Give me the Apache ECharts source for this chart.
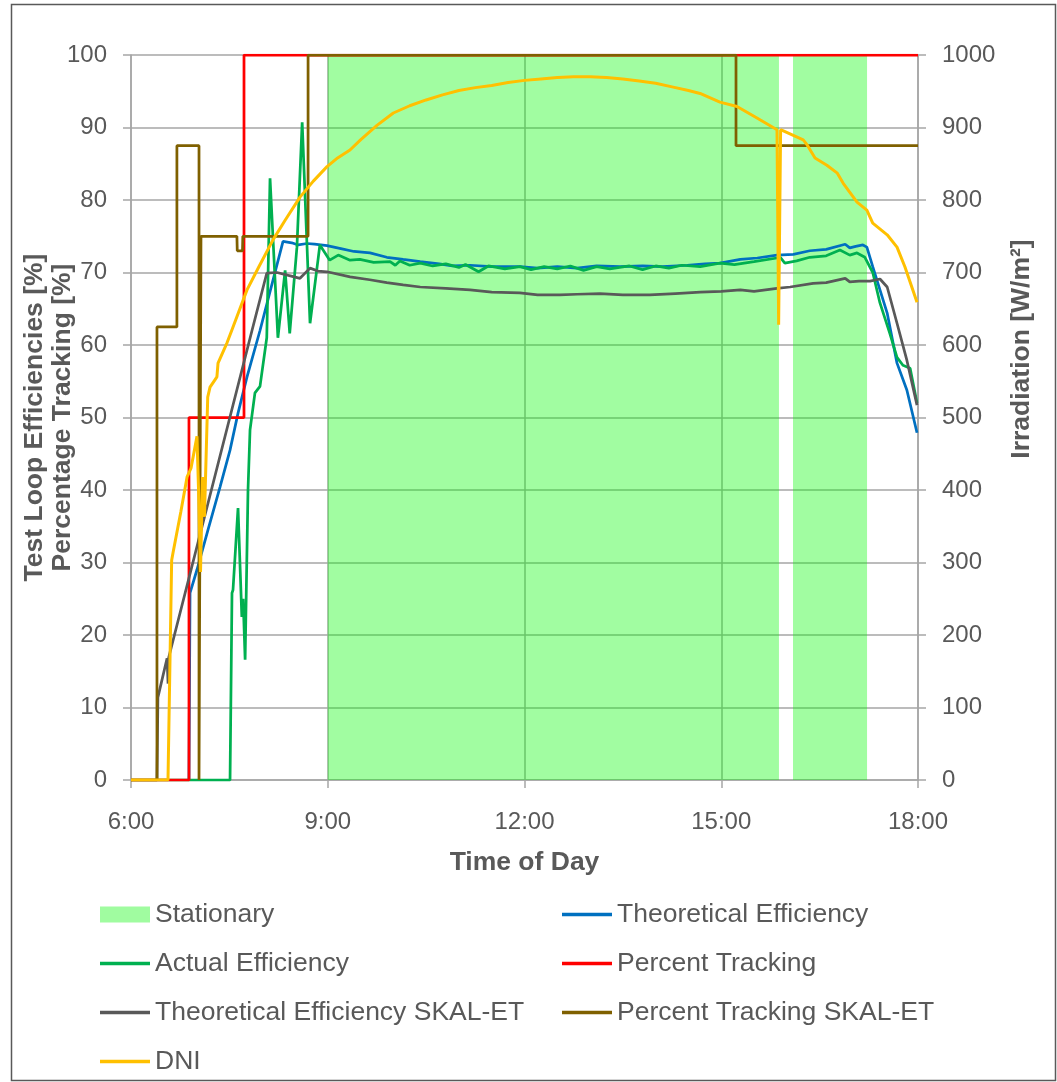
<!DOCTYPE html>
<html><head><meta charset="utf-8">
<script src="https://cdn.jsdelivr.net/npm/echarts@6/dist/echarts.min.js"></script>
<style>html,body{margin:0;padding:0;background:#fff}#c{width:1057px;height:1082px}</style>
</head><body><div id="c"></div><script>
// ---- data (hours of day, values) ----
const xTickLabels = ['6:00', '9:00', '12:00', '15:00', '18:00'];
const stationaryPeriods = [[9.0, 15.88], [16.094, 17.223]];
const theoreticalEff = [[6.884,0],[6.90,25.8],[7.006,29],[7.174,34.5],[7.357,40.4],[7.51,45.5],[7.632,50.6],[7.769,55.6],[7.967,62],[8.318,74.3],[8.45,74.1],[8.55,73.8],[8.684,74.0],[8.80,73.9],[8.989,73.7],[9.2,73.3],[9.4,72.9],[9.644,72.7],[9.9,72.1],[10.15,71.8],[10.41,71.5],[10.7,71.2],[10.9,70.9],[11.17,71.0],[11.5,70.8],[11.93,70.8],[12.2,70.6],[12.5,70.8],[12.8,70.6],[13.1,70.9],[13.46,70.8],[13.8,70.9],[14.1,70.8],[14.48,71.0],[14.75,71.2],[14.98,71.3],[15.29,71.8],[15.55,72.0],[15.85,72.4],[16.1,72.5],[16.35,73.0],[16.6,73.2],[16.89,73.9],[16.96,73.4],[17.05,73.6],[17.16,73.8],[17.22,73.5],[17.31,70.8],[17.53,64.4],[17.68,57.5],[17.83,53.8],[17.985,47.9]];
const actualEff = [[6,0],[7.51,0],[7.54,25.8],[7.555,26.2],[7.632,37.5],[7.69,22.5],[7.71,25],[7.74,16.6],[7.784,40],[7.815,48.3],[7.89,53.4],[7.967,54.3],[8.07,61],[8.12,83],[8.24,61],[8.35,70.3],[8.42,61.6],[8.53,73.5],[8.61,90.7],[8.73,63],[8.88,73.8],[9.03,71.7],[9.16,72.4],[9.34,71.7],[9.49,71.8],[9.7,71.4],[9.95,71.5],[10.03,71.0],[10.10,71.6],[10.25,71.0],[10.41,71.3],[10.6,70.9],[10.8,71.2],[11.0,70.7],[11.1,71.1],[11.3,70.1],[11.45,70.9],[11.7,70.5],[11.93,70.8],[12.1,70.4],[12.3,70.8],[12.5,70.5],[12.7,70.9],[12.9,70.3],[13.1,70.8],[13.3,70.5],[13.6,70.9],[13.8,70.4],[14.0,70.9],[14.2,70.6],[14.4,71.0],[14.68,70.8],[14.98,71.3],[15.2,71.1],[15.5,71.5],[15.85,72.0],[15.9,72.1],[15.97,71.3],[16.15,71.6],[16.35,72.1],[16.6,72.3],[16.81,73.1],[16.96,72.4],[17.07,72.7],[17.19,72.1],[17.31,70],[17.42,65.8],[17.57,61.6],[17.68,58.3],[17.77,57.2],[17.88,56.8],[17.985,52]];
const percentTracking = [[6,0],[6.884,0],[6.884,50],[7.723,50],[7.723,100],[18,100]];
const theoreticalEffSkal = [[6.396,0],[6.41,11.4],[6.55,16.8],[6.565,13.3],[6.575,16.9],[7.845,62],[8.07,69.9],[8.226,70.0],[8.4,69.6],[8.577,69.2],[8.73,70.6],[8.85,70.2],[8.99,70.1],[9.34,69.4],[9.64,69.0],[9.9,68.6],[10.15,68.3],[10.41,68.0],[10.8,67.8],[11.17,67.6],[11.5,67.3],[11.93,67.2],[12.2,66.9],[12.54,66.9],[12.8,67.0],[13.15,67.1],[13.5,66.9],[13.91,66.9],[14.3,67.1],[14.68,67.3],[15.0,67.4],[15.29,67.6],[15.5,67.4],[15.85,67.8],[16.05,68.0],[16.4,68.5],[16.6,68.6],[16.89,69.2],[16.96,68.7],[17.1,68.8],[17.27,68.8],[17.42,69.1],[17.53,68.0],[17.68,63],[17.83,57.9],[17.985,51.7]];
const percentTrackingSkal = [[6,0],[6.396,0],[6.396,62.5],[6.70,62.5],[6.70,87.5],[7.037,87.5],[7.037,0],[7.067,0],[7.067,75],[7.615,75],[7.62,73],[7.70,73],[7.705,75],[8.70,75],[8.70,100],[15.225,100],[15.225,87.5],[18,87.5]];
const dni = [[6,0],[6.564,0],[6.62,303],[6.64,313],[6.76,370],[6.855,418],[6.915,430],[7.006,474],[7.03,400],[7.06,287],[7.09,418],[7.12,363],[7.17,528],[7.205,542],[7.28,552],[7.31,556],[7.327,575],[7.464,603],[7.54,621],[7.769,676],[7.95,708],[8.165,745],[8.35,772],[8.577,804],[8.78,826],[8.989,846],[9.15,858],[9.339,869],[9.5,883],[9.75,903],[10.0,920],[10.25,930],[10.5,938],[10.75,945],[11.0,951],[11.25,955],[11.5,958],[11.75,962],[12.0,965],[12.25,967],[12.5,969],[12.75,970],[13.0,970],[13.25,969],[13.5,967],[13.75,964],[14.0,961],[14.25,956],[14.5,951],[14.677,947],[14.98,935],[15.24,929],[15.545,913],[15.85,897],[15.875,628],[15.905,897],[16.25,883],[16.31,876],[16.43,858],[16.61,848],[16.77,837],[16.86,823],[17.07,797],[17.22,786],[17.31,768],[17.53,752],[17.68,735],[17.80,708],[17.985,659]];

// ---- build ----
const stationaryData = [];
stationaryPeriods.forEach(p => { stationaryData.push([p[0],0],[p[0],100],[p[1],100],[p[1],0]); });

const FONT = 'Arial, "Liberation Sans", sans-serif';
const TXT = '#595959';
const GRID = '#a6a6a6';
const LW = 2.75;
const TITLE = 26.5;
function line(name, data, color, yi, w) {
  return {name, type:'line', data, yAxisIndex: yi||0, showSymbol:false, symbol:'none',
    lineStyle:{color, width: w||LW}, itemStyle:{color}, emphasis:{disabled:true}};
}
// legend layout: [name, left, top, isRect]
const legendItems = [
  ['Stationary', 100, 901, true], ['Theoretical Efficiency', 562, 901, false],
  ['Actual Efficiency', 100, 950, false], ['Percent Tracking', 562, 950, false],
  ['Theoretical Efficiency SKAL-ET', 100, 999, false], ['Percent Tracking SKAL-ET', 562, 999, false],
  ['DNI', 100, 1048, false]
];
const legends = legendItems.map(it => ({
  left: it[1], top: it[2], padding: 0, itemWidth: 50, itemHeight: it[3] ? 16 : 3.5,
  itemGap: 0, selectedMode: false, icon: 'rect',
  textStyle: {color: TXT, fontSize: TITLE, fontFamily: FONT, padding: [0,0,0,0]},
  data: [{name: it[0], icon: 'rect'}]
}));
const chart = echarts.init(document.getElementById('c'), null, {renderer:'canvas'});
const axisLineStyle = {color:GRID, width:1.5};
chart.setOption({
  animation:false,
  textStyle:{fontFamily:FONT},
  grid:{left:131, right:139, top:55, bottom:302, outerBoundsMode:'none', containLabel:false},
  xAxis:{type:'value', min:6, max:18, interval:3,
    axisLine:{show:true, lineStyle:axisLineStyle},
    axisTick:{show:true, length:8, lineStyle:axisLineStyle},
    axisLabel:{color:TXT, fontSize:24, margin:30, fontFamily:FONT, formatter:v => xTickLabels[Math.round((v-6)/3)]},
    splitLine:{show:true, lineStyle:axisLineStyle},
    name:'Time of Day', nameLocation:'middle', nameGap:69, nameMoveOverlap:false,
    nameTextStyle:{color:TXT, fontSize:TITLE, fontWeight:'bold', fontFamily:FONT}},
  yAxis:[
    {type:'value', min:0, max:100, interval:10, position:'left',
     axisLine:{show:true, lineStyle:axisLineStyle},
     axisTick:{show:true, length:8, lineStyle:axisLineStyle},
     axisLabel:{color:TXT, fontSize:24, margin:24, fontFamily:FONT},
     splitLine:{show:true, lineStyle:axisLineStyle},
     name:'Test Loop Efficiencies [%]\nPercentage Tracking [%]', nameLocation:'middle', nameGap:54, nameRotate:90,
     nameMoveOverlap:false,
     nameTextStyle:{color:TXT, fontSize:TITLE, fontWeight:'bold', lineHeight:28, fontFamily:FONT}},
    {type:'value', min:0, max:1000, interval:100, position:'right',
     axisLine:{show:true, lineStyle:axisLineStyle},
     axisTick:{show:true, length:8, lineStyle:axisLineStyle},
     axisLabel:{color:TXT, fontSize:24, margin:24, fontFamily:FONT, formatter:v => String(v)},
     splitLine:{show:false}}
  ],
  legend: legends,
  graphic:[
    {type:'rect', shape:{x:11.5, y:4.5, width:1044, height:1076}, style:{fill:null, stroke:'#595959', lineWidth:1.5}, silent:true},
    {type:'text', x:1022, y:349, rotation:Math.PI/2,
     style:{text:'Irradiation [W/m²]', fill:TXT, font:'bold ' + TITLE + 'px Arial, "Liberation Sans", sans-serif', align:'center', verticalAlign:'middle', textAlign:'center', textVerticalAlign:'middle'}}
  ],
  series:[
    {name:'Stationary', type:'line', data:stationaryData, showSymbol:false, symbol:'none',
     lineStyle:{width:0, color:'#a0fca0'}, itemStyle:{color:'#a0fca0'},
     areaStyle:{color:'rgba(0,250,0,0.37)', opacity:1}, emphasis:{disabled:true}, z:1},
    line('Theoretical Efficiency', theoreticalEff, '#0070c0'),
    line('Actual Efficiency', actualEff, '#00b050'),
    line('Percent Tracking', percentTracking, '#ff0000'),
    line('Theoretical Efficiency SKAL-ET', theoreticalEffSkal, '#595959'),
    line('Percent Tracking SKAL-ET', percentTrackingSkal, '#7f6000'),
    line('DNI', dni, '#ffc000', 1, 3)
  ]
});
</script></body></html>
